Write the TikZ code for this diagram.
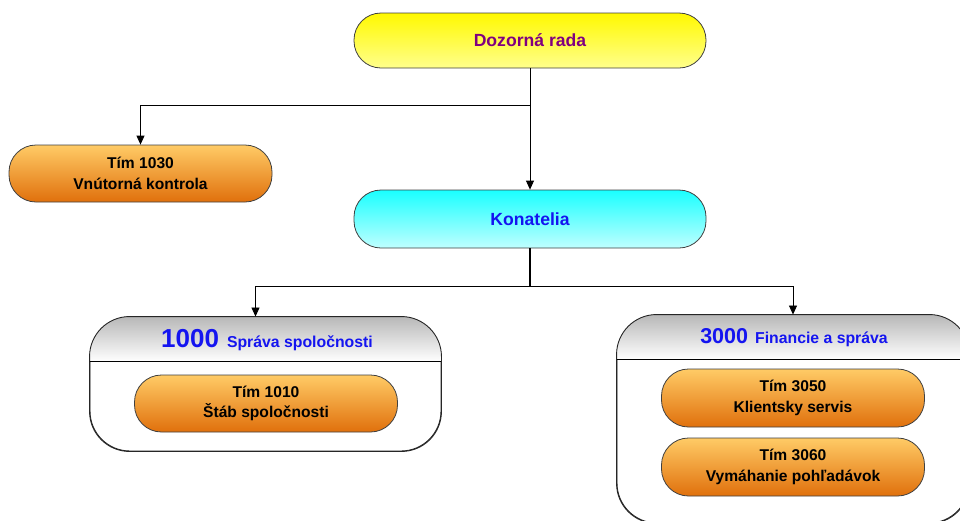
\documentclass[tikz,border=0pt]{standalone}
\usepackage{fontspec}
\setmainfont{Liberation Sans}
\usepackage{xcolor}
\usetikzlibrary{arrows.meta,positioning,calc}

\definecolor{boardtxt}{HTML}{800080}
\definecolor{unittxt}{HTML}{1414F0}
\definecolor{orangetop}{HTML}{FFCB66}
\definecolor{orangebot}{HTML}{E0700C}

\begin{document}
\begin{tikzpicture}[
  x=1pt, y=-1pt,
  pill/.style={draw=black!75, rounded corners=27pt, align=center, line width=0.8pt, inner sep=2pt},
  board/.style={pill, top color=yellow!95!orange, bottom color=yellow!45, minimum width=352pt, minimum height=55pt, text=boardtxt, font=\fontsize{17.6}{20}\selectfont\bfseries},
  mgmt/.style={pill, top color=cyan!90, bottom color=cyan!25, minimum width=352pt, minimum height=58pt, text=unittxt, font=\fontsize{17.6}{20}\selectfont\bfseries},
  team/.style={pill, top color=orangetop, bottom color=orangebot, minimum width=263pt, minimum height=57pt, font=\fontsize{15.6}{20.5}\selectfont\bfseries},
  group/.style={draw=black!85, rounded corners=40pt, fill=white, line width=0.9pt},
  unit/.style={text=unittxt, font=\bfseries, inner sep=0pt},
  arrow/.style={-{Triangle[length=9pt,width=8pt]}, line width=0.8pt},
]
\useasboundingbox (0,0) rectangle (960,520);
\clip (0,0) rectangle (960,520);

\node[board] (dozor) at (530,40.5) {Dozorná rada};
\node[mgmt] (konat) at (530,219) {Konatelia};
\node[team] (t1030) at (140.5,173.5) {Tím 1030\\Vnútorná kontrola};

% organizacne utvary
\node[group, minimum width=351pt, minimum height=134pt] (g1) at (265.5,384) {};
\node[group, minimum width=352pt, minimum height=208pt] (g3) at (793,419) {};
\foreach \g in {g1,g3} {
  \begin{scope}
    \clip[rounded corners=40pt] (\g.north west) rectangle (\g.south east);
    \shade[top color=black!28, bottom color=white] (\g.north west) rectangle ($(\g.north east)+(0,45)$);
  \end{scope}
  \draw[group, fill=none] (\g.north west) rectangle (\g.south east);
  \draw[line width=0.9pt] ($(\g.north west)+(0,45)$) -- ($(\g.north east)+(0,45)$);
}

\node[unit] (h1) at (267,340) {\fontsize{26}{28}\selectfont 1000\hspace{8pt}\fontsize{15.8}{17}\selectfont Správa spoločnosti};
\node[unit] (h3) at (794,338) {\fontsize{21.5}{24}\selectfont 3000\hspace{7pt}\fontsize{15.8}{17}\selectfont Financie a správa};

\node[team] (t1010) at (266,403.5) {Tím 1010\\Štáb spoločnosti};
\node[team, minimum height=58pt] (t3050) at (793,398) {Tím 3050\\Klientsky servis};
\node[team, minimum height=58pt] (t3060) at (793,467) {Tím 3060\\Vymáhanie pohľadávok};

\draw[arrow] (dozor) -- (konat);
\draw[arrow] (dozor.south) -- ++(0,37) -| (t1030.north);

\draw[line width=1.6pt] (konat.south) -- ++(0,38) coordinate (split);
\draw[arrow] (split) -| ([xshift=-10pt]g1.north);
\draw[arrow] (split) -| (g3.north);

\end{tikzpicture}
\end{document}
